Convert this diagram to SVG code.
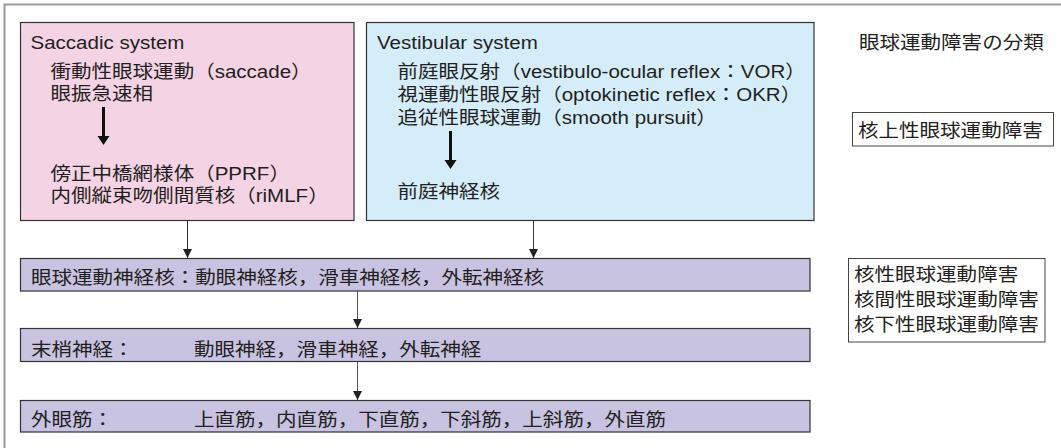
<svg xmlns="http://www.w3.org/2000/svg" width="1061" height="448" viewBox="0 0 1061 448">
<style>
text{font-family:"Liberation Sans","Noto Sans CJK JP",sans-serif;font-size:18.5px;fill:#231f20}
.frame{stroke:#9a9a9a;stroke-width:2;fill:none}
.box{stroke:#333;stroke-width:1.2}
.pink{fill:#f4d3e4}
.blue{fill:#d5ecf9}
.bar{fill:#c8c3e0}
.plain{fill:#fff;stroke:#444;stroke-width:1}
.conn{stroke:#333;stroke-width:1;fill:none}
.thick{stroke:#111;stroke-width:3;fill:none}
</style>
<defs>
<marker id="ah" markerWidth="10" markerHeight="9" refX="9" refY="4.5" orient="auto" markerUnits="userSpaceOnUse">
<path d="M0,0 L9,4.5 L0,9 Z" fill="#222"/>
</marker>
</defs>
<rect width="1061" height="448" fill="#fff"/>
<path class="frame" d="M4.5,448 V4.5 H1061"/>

<g id="saccadic">
<rect class="box pink" x="20.5" y="22.5" width="333.5" height="198"/>
<text transform="translate(30.5,49) scale(1.11,1)">Saccadic system</text>
<text transform="translate(50.5,77.5) scale(1.11,1)">衝動性眼球運動（saccade）</text>
<text transform="translate(50.5,99.5) scale(1.11,1)">眼振急速相</text>
<path class="thick" d="M103.5,107 V137"/>
<path d="M97.5,136 H109.5 L103.5,145 Z" fill="#111"/>
<text transform="translate(50.5,179.5) scale(1.11,1)">傍正中橋網様体（PPRF）</text>
<text transform="translate(50.5,201.5) scale(1.11,1)">内側縦束吻側間質核（riMLF）</text>
</g>

<g id="vestibular">
<rect class="box blue" x="366.5" y="22.5" width="447.5" height="198"/>
<text transform="translate(377,49) scale(1.11,1)">Vestibular system</text>
<text transform="translate(397.5,77.5) scale(1.11,1)">前庭眼反射（vestibulo-ocular reflex：VOR）</text>
<text transform="translate(397.5,100.5) scale(1.11,1)">視運動性眼反射（optokinetic reflex：OKR）</text>
<text transform="translate(397.5,123.5) scale(1.11,1)">追従性眼球運動（smooth pursuit）</text>
<path class="thick" d="M450.5,131 V161"/>
<path d="M444.5,160 H456.5 L450.5,169 Z" fill="#111"/>
<text transform="translate(397.5,197.5) scale(1.11,1)">前庭神経核</text>
</g>

<g id="title">
<text transform="translate(859,49) scale(1.11,1)">眼球運動障害の分類</text>
</g>

<g id="supranuclear">
<rect class="plain" x="852.5" y="112.5" width="201" height="33.5"/>
<text transform="translate(858,136.5) scale(1.11,1)">核上性眼球運動障害</text>
</g>

<g id="nucleus">
<rect class="box bar" x="20.5" y="258.5" width="789.5" height="32.5"/>
<text transform="translate(31,284) scale(1.11,1)">眼球運動神経核：動眼神経核，滑車神経核，外転神経核</text>
</g>

<g id="peripheral">
<rect class="box bar" x="20.5" y="328.5" width="789.5" height="33"/>
<text transform="translate(31,355.5) scale(1.11,1)">末梢神経：</text>
<text transform="translate(194,355.5) scale(1.11,1)">動眼神経，滑車神経，外転神経</text>
</g>

<g id="muscles">
<rect class="box bar" x="20.5" y="400.5" width="789.5" height="31.5"/>
<text transform="translate(31,426) scale(1.11,1)">外眼筋：</text>
<text transform="translate(194,426) scale(1.11,1)">上直筋，内直筋，下直筋，下斜筋，上斜筋，外直筋</text>
</g>

<g id="infranuclear">
<rect class="plain" x="848.5" y="258.5" width="196.5" height="83.5"/>
<text transform="translate(854,281) scale(1.11,1)">核性眼球運動障害</text>
<text transform="translate(854,306) scale(1.11,1)">核間性眼球運動障害</text>
<text transform="translate(854,331) scale(1.11,1)">核下性眼球運動障害</text>
</g>

<g id="connectors">
<path class="conn" d="M187.5,220.5 V258" marker-end="url(#ah)"/>
<path class="conn" d="M533.5,220.5 V258" marker-end="url(#ah)"/>
<path class="conn" style="stroke:#555" d="M357.5,291 V328" marker-end="url(#ah)"/>
<path class="conn" style="stroke:#555" d="M357.5,361.5 V400" marker-end="url(#ah)"/>
</g>
</svg>
